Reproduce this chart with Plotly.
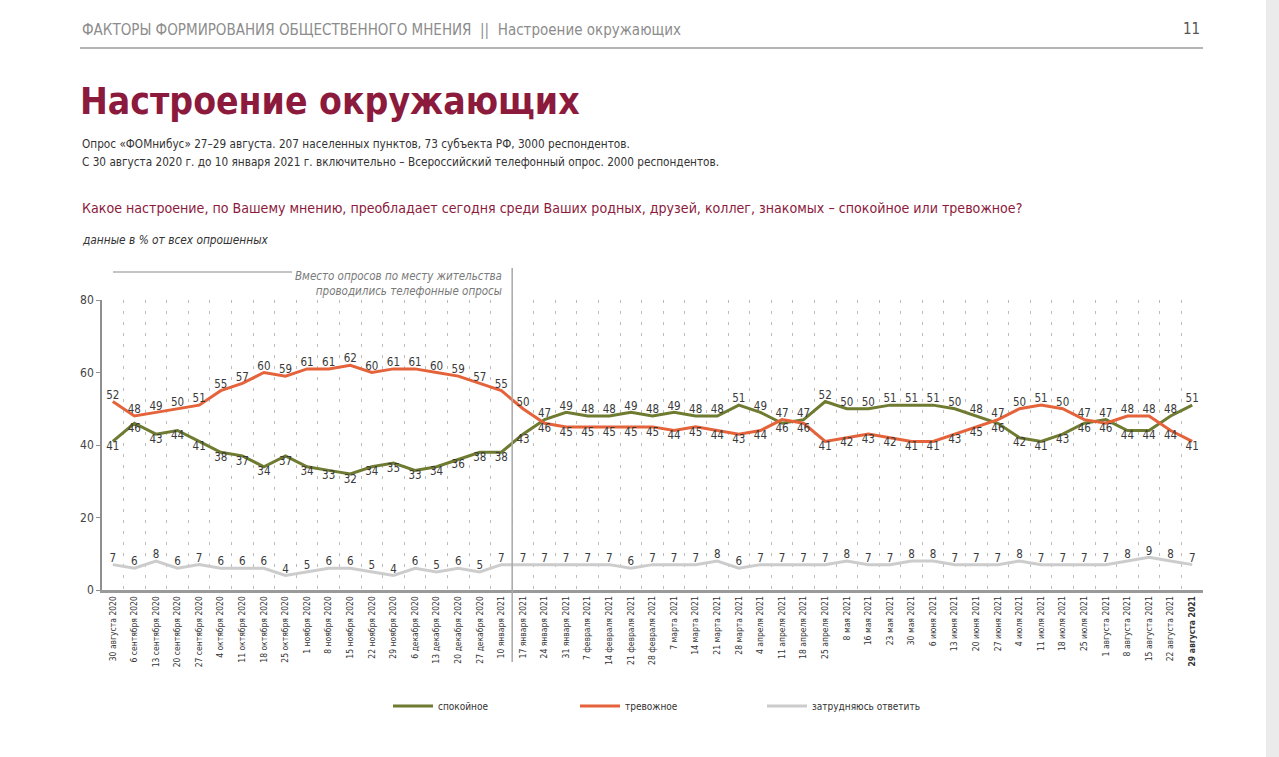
import plotly.graph_objects as go

dates = [
    "30 августа 2020", "6 сентября 2020", "13 сентября 2020", "20 сентября 2020", "27 сентября 2020",
    "4 октября 2020", "11 октября 2020", "18 октября 2020", "25 октября 2020", "1 ноября 2020",
    "8 ноября 2020", "15 ноября 2020", "22 ноября 2020", "29 ноября 2020", "6 декабря 2020",
    "13 декабря 2020", "20 декабря 2020", "27 декабря 2020", "10 января 2021",
    "17 января 2021", "24 января 2021", "31 января 2021", "7 февраля 2021", "14 февраля 2021",
    "21 февраля 2021", "28 февраля 2021", "7 марта 2021", "14 марта 2021", "21 марта 2021",
    "28 марта 2021", "4 апреля 2021", "11 апреля 2021", "18 апреля 2021", "25 апреля 2021",
    "8 мая 2021", "16 мая 2021", "23 мая 2021", "30 мая 2021", "6 июня 2021", "13 июня 2021",
    "20 июня 2021", "27 июня 2021", "4 июля 2021", "11 июля 2021", "18 июля 2021", "25 июля 2021",
    "1 августа 2021", "8 августа 2021", "15 августа 2021", "22 августа 2021", "29 августа 2021",
]

calm = [41, 46, 43, 44, 41, 38, 37, 34, 37, 34, 33, 32, 34, 35, 33, 34, 36, 38, 38,
        43, 47, 49, 48, 48, 49, 48, 49, 48, 48, 51, 49, 46, 47, 52,
        50, 50, 51, 51, 51, 50, 48, 46, 42, 41, 43, 46, 47, 44, 44, 48, 51]

anxious = [52, 48, 49, 50, 51, 55, 57, 60, 59, 61, 61, 62, 60, 61, 61, 60, 59, 57, 55,
           50, 46, 45, 45, 45, 45, 45, 44, 45, 44, 43, 44, 47, 46, 41,
           42, 43, 42, 41, 41, 43, 45, 47, 50, 51, 50, 47, 46, 48, 48, 44, 41]

hard = [7, 6, 8, 6, 7, 6, 6, 6, 4, 5, 6, 6, 5, 4, 6, 5, 6, 5, 7,
        7, 7, 7, 7, 7, 6, 7, 7, 7, 8, 6, 7, 7, 7, 7,
        8, 7, 7, 8, 8, 7, 7, 7, 8, 7, 7, 7, 7, 8, 9, 8, 7]

series_names = ["спокойное", "тревожное", "затрудняюсь ответить"]

GREEN = "#6e7b30"
ORANGE = "#e5633a"
GRAY = "#cccccc"
MAROON = "#8b1a3c"
FONT = "Liberation Sans Narrow, DejaVu Sans Condensed, Roboto, sans-serif"

x = list(range(len(dates)))
ticktext = dates[:-1] + ["<b>" + dates[-1] + "</b>"]

pos_calm = ["top center" if c > a else "bottom center" for c, a in zip(calm, anxious)]
pos_anx = ["top center" if a > c else "bottom center" for c, a in zip(calm, anxious)]

fig = go.Figure()
label_font = dict(family=FONT, size=11.5, color="#3a3a3a")
fig.add_trace(go.Scatter(x=x, y=calm, mode="lines+text", name=series_names[0],
                         line=dict(color=GREEN, width=3), text=[str(v) for v in calm],
                         textposition=pos_calm, textfont=label_font, cliponaxis=False))
fig.add_trace(go.Scatter(x=x, y=anxious, mode="lines+text", name=series_names[1],
                         line=dict(color=ORANGE, width=3), text=[str(v) for v in anxious],
                         textposition=pos_anx, textfont=label_font, cliponaxis=False))
fig.add_trace(go.Scatter(x=x, y=hard, mode="lines+text", name=series_names[2],
                         line=dict(color=GRAY, width=3), text=[str(v) for v in hard],
                         textposition="top center", textfont=label_font, cliponaxis=False))

L, R, T, B = 102, 1203, 300, 590
W, H = 1279, 757


def px(v):
    return (v - L) / (R - L)


def py(v):
    return (B - v) / (B - T)


annotations = [
    dict(text="ФАКТОРЫ ФОРМИРОВАНИЯ ОБЩЕСТВЕННОГО МНЕНИЯ  ||  Настроение окружающих",
         x=px(80), y=py(30), xanchor="left", yanchor="middle",
         font=dict(family=FONT, size=15, color="#8c8c8c")),
    dict(text="11", x=px(1202), y=py(29), xanchor="right", yanchor="middle",
         font=dict(family=FONT, size=15, color="#555555")),
    dict(text="<b>Настроение окружающих</b>", x=px(78), y=py(101), xanchor="left", yanchor="middle",
         font=dict(family=FONT, size=37, color=MAROON)),
    dict(text="Опрос «ФОМнибус» 27–29 августа. 207 населенных пунктов, 73 субъекта РФ, 3000 респондентов.",
         x=px(80), y=py(144), xanchor="left", yanchor="middle",
         font=dict(family=FONT, size=11.7, color="#333333")),
    dict(text="С 30 августа 2020 г. до 10 января 2021 г. включительно – Всероссийский телефонный опрос. 2000 респондентов.",
         x=px(80), y=py(162), xanchor="left", yanchor="middle",
         font=dict(family=FONT, size=11.7, color="#333333")),
    dict(text="Какое настроение, по Вашему мнению, преобладает сегодня среди Ваших родных, друзей, коллег, знакомых – спокойное или тревожное?",
         x=px(80), y=py(208), xanchor="left", yanchor="middle",
         font=dict(family=FONT, size=14.1, color=MAROON)),
    dict(text="<i>данные в % от всех опрошенных</i>",
         x=px(80), y=py(240), xanchor="left", yanchor="middle",
         font=dict(family=FONT, size=11.8, color="#333333")),
    dict(text="<i>Вместо опросов по месту жительства<br>проводились телефонные опросы</i>",
         x=px(504), y=py(283), xanchor="right", yanchor="middle", align="right",
         font=dict(family=FONT, size=11.5, color="#7a7a7a")),
]
for a in annotations:
    a.update(xref="paper", yref="paper", showarrow=False)

shapes = [
    dict(type="line", xref="paper", yref="paper", x0=px(80), x1=px(1203), y0=py(48), y1=py(48),
         line=dict(color="#b5b5b5", width=2)),
    dict(type="line", xref="paper", yref="paper", x0=px(113), x1=px(292), y0=py(272), y1=py(272),
         line=dict(color="#b0b0b0", width=1.5)),
    dict(type="line", xref="x", yref="paper", x0=18.5, x1=18.5, y0=py(662), y1=py(268),
         line=dict(color="#a8a8a8", width=1.5)),
    dict(type="rect", xref="paper", yref="paper", x0=px(1266), x1=px(1279), y0=py(0), y1=py(757),
         fillcolor="#ebebeb", line=dict(width=0), layer="above"),
]

fig.update_layout(
    width=W, height=H,
    margin=dict(l=L, r=W - R, t=T, b=H - B, pad=0),
    paper_bgcolor="white", plot_bgcolor="white",
    font=dict(family=FONT, color="#333333"),
    annotations=annotations, shapes=shapes,
    showlegend=True, hovermode=False,
    legend=dict(orientation="h", x=px(388), y=py(706), xanchor="left", yanchor="middle",
                font=dict(family=FONT, size=10, color="#333333"),
                entrywidth=132, entrywidthmode="pixels", itemwidth=40,
                bgcolor="rgba(0,0,0,0)"),
)

fig.update_xaxes(
    range=[-0.5, 50.5], tickmode="array", tickvals=x, ticktext=ticktext, tickangle=-90,
    tickfont=dict(family=FONT, size=8.5, color="#333333"),
    showgrid=False, zeroline=False, ticks="",
    showline=True, linecolor="#9a9a9a", linewidth=2.5,
    minor=dict(tickmode="linear", tick0=0.5, dtick=1, showgrid=True,
               gridcolor="#bdbdbd", gridwidth=1, griddash="3px,8px", ticks=""),
    fixedrange=True,
)
fig.update_yaxes(
    range=[0, 80], tickvals=[0, 20, 40, 60, 80], showgrid=False, zeroline=False,
    showline=True, linecolor="#8f8f8f", linewidth=1.5, ticks="outside", ticklen=4,
    tickcolor="#8f8f8f", tickfont=dict(family=FONT, size=12, color="#444444"),
    fixedrange=True,
)

fig.write_html("out.html", config={"displayModeBar": False},
               post_script="document.body.style.margin='0px';document.body.style.overflow='hidden';")
